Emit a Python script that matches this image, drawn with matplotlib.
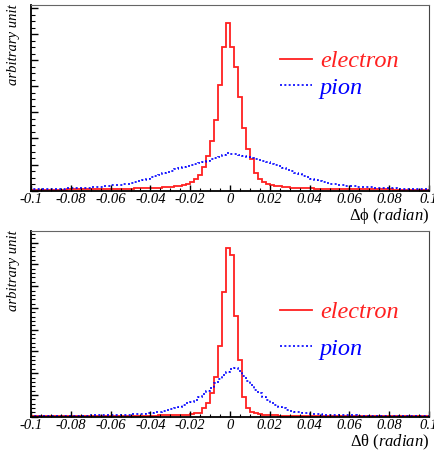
import numpy as np
import matplotlib
matplotlib.use('Agg')
import matplotlib.pyplot as plt
from matplotlib.ticker import MultipleLocator, FixedLocator, FixedFormatter

plt.rcParams['font.family'] = ['Liberation Serif', 'DejaVu Serif']
plt.rcParams['mathtext.fontset'] = 'custom'
plt.rcParams['mathtext.rm'] = 'Liberation Serif'
plt.rcParams['mathtext.it'] = 'Liberation Serif:italic'

# 100 bins of 0.002 from -0.1 to 0.1
edges = np.linspace(-0.1, 0.1, 101)

# delta phi, electron
e_phi = [0.8, 0.8, 0.9, 0.9, 1.0, 1.0, 1.0, 1.1, 1.1, 1.2,
         1.2, 1.3, 1.3, 1.4, 1.4, 1.5, 1.5, 1.6, 1.6, 1.7,
         1.7, 1.8, 1.9, 2.0, 2.0, 2.1, 2.2, 2.3, 2.4, 2.5,
         2.6, 2.8, 3.0, 3.2, 3.5, 3.7, 4.3, 5.0, 5.7, 6.7,
         8.7, 11.7, 16.0, 23.3, 34.7, 49.3, 70.7, 105.7, 143.3, 167.3,
         143.3, 123.3, 94.0, 62.7, 41.7, 31.3, 17.3, 11.7, 8.7, 6.7,
         5.7, 4.7, 4.3, 3.7, 3.4, 3.1, 2.9, 2.7, 2.5, 2.4,
         2.2, 2.1, 2.0, 2.0, 1.9, 1.8, 1.8, 1.7, 1.7, 1.6,
         1.6, 1.5, 1.5, 1.4, 1.4, 1.3, 1.3, 1.3, 1.2, 1.2,
         1.2, 1.1, 1.1, 1.1, 1.0, 1.0, 1.0, 0.9, 0.9, 0.9]

# delta phi, pion
p_phi = [1.3, 1.4, 1.4, 1.5, 1.6, 1.7, 1.8, 1.9, 2.0, 2.2,
         2.3, 2.5, 2.7, 2.9, 3.1, 3.4, 3.7, 4.0, 4.4, 4.8,
         5.2, 5.6, 6.0, 6.5, 7.0, 7.6, 8.3, 9.3, 10.5, 11.8,
         13.2, 14.6, 16.0, 17.4, 18.8, 20.1, 21.4, 22.6, 23.8, 24.9,
         26.0, 27.0, 28.0, 29.0, 30.0, 31.2, 32.5, 33.8, 35.5, 37.8,
         37.0, 36.2, 35.4, 34.6, 33.8, 32.9, 32.0, 31.0, 29.9, 28.5,
         27.0, 25.6, 24.2, 22.7, 21.1, 19.5, 17.9, 16.3, 14.8, 13.4,
         12.0, 10.8, 9.6, 8.6, 7.7, 7.0, 6.3, 5.7, 5.2, 4.8,
         4.5, 4.2, 3.9, 3.6, 3.4, 3.2, 3.0, 2.8, 2.6, 2.5,
         2.3, 2.2, 2.1, 2.0, 1.9, 1.8, 1.7, 1.6, 1.5, 1.4]

# delta theta, electron
e_theta = [0.5, 0.5, 0.5, 0.5, 0.5, 0.6, 0.6, 0.6, 0.6, 0.6,
           0.6, 0.7, 0.7, 0.7, 0.7, 0.7, 0.8, 0.8, 0.8, 0.8,
           0.8, 0.9, 0.9, 0.9, 0.9, 1.0, 1.0, 1.0, 1.0, 1.1,
           1.1, 1.1, 1.2, 1.2, 1.3, 1.3, 1.4, 1.5, 1.6, 1.8,
           2.3, 3.3, 4.0, 8.3, 14.0, 23.3, 40.0, 70.7, 125.0, 168.3,
           161.7, 100.7, 56.7, 20.0, 8.3, 5.0, 3.3, 2.3, 1.8, 1.5,
           1.3, 1.2, 1.1, 1.0, 1.0, 0.9, 0.9, 0.9, 0.8, 0.8,
           0.8, 0.8, 0.8, 0.7, 0.7, 0.7, 0.7, 0.7, 0.7, 0.6,
           0.6, 0.6, 0.6, 0.6, 0.6, 0.6, 0.6, 0.5, 0.5, 0.5,
           0.5, 0.5, 0.5, 0.5, 0.5, 0.5, 0.5, 0.5, 0.5, 0.5]

# delta theta, pion
p_theta = [0.7, 0.7, 0.7, 0.8, 0.8, 0.8, 0.8, 0.9, 0.9, 0.9,
           1.0, 1.0, 1.0, 1.1, 1.1, 1.2, 1.2, 1.3, 1.4, 1.5,
           1.6, 1.7, 1.8, 1.9, 2.1, 2.3, 2.5, 2.8, 3.1, 3.5,
           4.0, 4.5, 5.1, 5.8, 6.6, 7.6, 8.7, 10.0, 11.5, 13.2,
           15.0, 17.0, 19.4, 22.2, 25.4, 29.0, 33.2, 37.5, 41.5, 45.0,
           47.5, 49.0, 46.0, 41.0, 36.0, 31.2, 27.0, 23.3, 20.0, 16.8,
           14.0, 11.7, 9.8, 8.2, 6.9, 5.9, 5.0, 4.3, 3.7, 3.2,
           2.8, 2.5, 2.2, 2.0, 1.8, 1.7, 1.6, 1.5, 1.4, 1.3,
           1.2, 1.2, 1.1, 1.1, 1.0, 1.0, 1.0, 0.9, 0.9, 0.9,
           0.9, 0.8, 0.8, 0.8, 0.8, 0.7, 0.7, 0.7, 0.7, 0.7]

xticks = [-0.1, -0.08, -0.06, -0.04, -0.02, 0, 0.02, 0.04, 0.06, 0.08, 0.1]
xticklabels = ['-0.1', '-0.08', '-0.06', '-0.04', '-0.02', '0',
               '0.02', '0.04', '0.06', '0.08', '0.1']

panels = [
    (e_phi, p_phi, r'$\mathrm{\Delta\phi}\ \mathit{(radian)}$', 26.1, 4, 0.626, 0.2),
    (e_theta, p_theta, r'$\mathrm{\Delta\theta}\ \mathit{(radian)}$', 21.75, 5, 0.464, 0.6),
]

fig = plt.figure(figsize=(4.35, 4.51), dpi=100)
axes_pos = [[0.0713, 0.5772, 0.9149, 0.4117],
            [0.0713, 0.0761, 0.9149, 0.4117]]

for pos, (ele, pio, xlab, major, nsub, leg_y, lspace) in zip(axes_pos, panels):
    ax = fig.add_axes(pos)
    ax.stairs(ele, edges, color='#ff2020', linewidth=1.3, label='electron')
    ax.stairs(pio, edges, color='#0000ff', linewidth=1.2,
              linestyle=(0, (1.2, 1.4)), label='pion')
    ax.set_xlim(-0.1, 0.1)
    ax.set_ylim(0, 185.7)

    ax.xaxis.set_major_locator(FixedLocator(xticks))
    ax.xaxis.set_major_formatter(FixedFormatter(xticklabels))
    ax.xaxis.set_minor_locator(MultipleLocator(0.005))
    ax.yaxis.set_major_locator(MultipleLocator(major))
    ax.yaxis.set_minor_locator(MultipleLocator(major / nsub))
    ax.set_yticklabels([])
    ax.tick_params(axis='x', which='major', direction='in', length=4, width=1,
                   pad=2, labelsize=10.5)
    ax.tick_params(axis='x', which='minor', direction='in', length=2, width=0.8)
    ax.tick_params(axis='y', which='major', direction='in', length=5, width=1)
    ax.tick_params(axis='y', which='minor', direction='in', length=2.8, width=0.8)
    for lbl in ax.get_xticklabels():
        lbl.set_fontstyle('italic')

    ax.spines['left'].set_linewidth(1.3)
    ax.spines['bottom'].set_linewidth(1.3)
    ax.spines['top'].set_color('#666666')
    ax.spines['right'].set_color('#444444')

    ax.text(1.0, -0.138, xlab, transform=ax.transAxes, ha='right', va='center',
            fontsize=12)
    ax.text(-0.043, 1.005, 'arbitrary unit', transform=ax.transAxes,
            rotation=90, ha='center', va='top', fontsize=10.5, fontstyle='italic')

    ax.legend(loc='center left', bbox_to_anchor=(0.626, leg_y), frameon=False,
              borderpad=0, borderaxespad=0, handlelength=1.3,
              handletextpad=0.33, labelspacing=lspace,
              labelcolor='linecolor',
              prop={'family': 'Liberation Serif', 'style': 'italic', 'size': 17.5})

fig.savefig('out.png', dpi=100)
